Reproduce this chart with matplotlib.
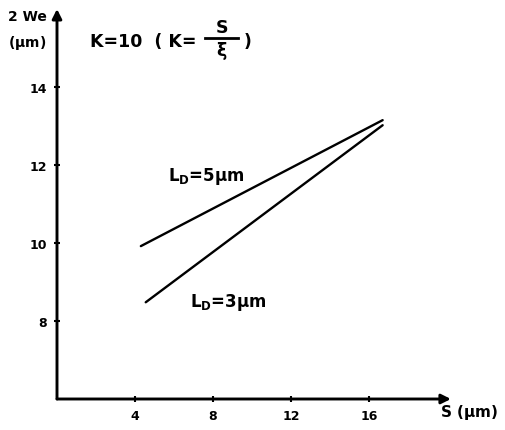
import matplotlib
matplotlib.use("Agg")
import matplotlib.pyplot as plt

plt.rcParams['font.family'] = ['DejaVu Sans']
plt.rcParams['font.weight'] = 'bold'
plt.rcParams['mathtext.fontset'] = 'dejavusans'
plt.rcParams['mathtext.default'] = 'bf'

# data (S in um, 2We in um)
s_ld5 = [4.3, 16.7]
we_ld5 = [9.92, 13.15]
s_ld3 = [4.55, 16.7]
we_ld3 = [8.48, 13.02]
xticks = [4, 8, 12, 16]
yticks = [8, 10, 12, 14]

W, H = 506, 431
fig = plt.figure(figsize=(W / 100, H / 100), dpi=100)
# x: 0 at px 57, 19.5 px/unit ; y: 6 at px 400, 39 px/unit
xmax, ymax = 20.2, 16.0
ax = fig.add_axes([57 / W, (H - 400) / H, xmax * 19.5 / W, (ymax - 6) * 39 / H])
ax.set_xlim(0, xmax)
ax.set_ylim(6, ymax)
for sp in ax.spines.values():
    sp.set_visible(False)

# axes with arrow heads
arrow = dict(arrowstyle='-|>', lw=2.1, color='black', mutation_scale=14, shrinkA=0, shrinkB=0)
ax.annotate('', xy=(1, 0), xytext=(0, 0), xycoords='axes fraction', arrowprops=arrow)
ax.annotate('', xy=(0, 1), xytext=(0, 0), xycoords='axes fraction', arrowprops=arrow)

ax.plot(s_ld5, we_ld5, color='black', lw=1.7, solid_capstyle='round')
ax.plot(s_ld3, we_ld3, color='black', lw=1.7, solid_capstyle='round')

ax.set_xticks(xticks)
ax.set_yticks(yticks)
ax.set_xticklabels([str(v) for v in xticks], fontsize=9, fontweight='bold')
ax.set_yticklabels([str(v) for v in yticks], fontsize=9, fontweight='bold')
ax.tick_params(direction='inout', length=5, width=1.5, pad=5)

ax.text(5.7, 11.72, r'L$_\mathregular{D}$=5$\mu$m', fontsize=12, va='center', ha='left')
ax.text(6.8, 8.49, r'L$_\mathregular{D}$=3$\mu$m', fontsize=12, va='center', ha='left')

fig.text(440 / W, 1 - 413 / H, r'S ($\mu$m)', fontsize=11, va='center', ha='left')
fig.text(8 / W, 1 - 17 / H, '2 We', fontsize=10, va='center', ha='left')
fig.text(8 / W, 1 - 43 / H, r'($\mu$m)', fontsize=10, va='center', ha='left')

# header K=10 (K = S / xi), fraction built by hand
fig.text(90 / W, 1 - 42 / H, 'K=10  ( K=', fontsize=12.5, va='center', ha='left')
fig.text(222 / W, 1 - 28 / H, 'S', fontsize=12.5, va='center', ha='center')
fig.add_artist(plt.Line2D([205 / W, 238 / W], [1 - 39 / H, 1 - 39 / H], color='black', lw=2))
fig.text(222 / W, 1 - 51 / H, r'$\xi$', fontsize=12.5, va='center', ha='center')
fig.text(244 / W, 1 - 42 / H, ')', fontsize=12.5, va='center', ha='left')

fig.savefig('out.png', dpi=100)
